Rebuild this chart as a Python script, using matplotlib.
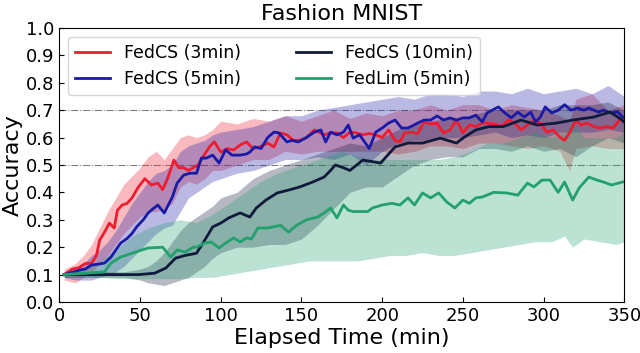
import matplotlib
matplotlib.use('Agg')
import matplotlib.pyplot as plt
import numpy as np

# FedCS (3min)
red_t = [3, 8, 12, 16, 20, 23, 25, 28, 31, 34, 36, 39, 42, 45, 49, 53, 57, 61, 64, 67,
         71, 74, 77, 80, 83, 86, 89, 93, 96, 100, 104, 108, 112, 116, 120, 124, 129, 133, 137, 141,
         145, 149, 153, 158, 164, 168, 172, 176, 180, 184, 188, 192, 196, 200, 204, 208, 211, 214, 218, 222,
         226, 230, 234, 238, 242, 246, 250, 254, 258, 262, 265, 269, 274, 278, 282, 286, 290, 294, 298, 302,
         306, 310, 313, 316, 320, 323, 327, 331, 335, 339, 343, 347, 350]
red_y = [0.10, 0.12, 0.125, 0.14, 0.142, 0.17, 0.226, 0.255, 0.288, 0.27, 0.335, 0.354, 0.36, 0.38, 0.42, 0.45, 0.427, 0.434, 0.41, 0.45,
         0.518, 0.49, 0.49, 0.48, 0.49, 0.5, 0.53, 0.566, 0.585, 0.547, 0.56, 0.555, 0.573, 0.584, 0.56, 0.566, 0.58, 0.566, 0.617, 0.61,
         0.59, 0.59, 0.60, 0.628, 0.61, 0.617, 0.617, 0.60, 0.62, 0.617, 0.61, 0.615, 0.61, 0.60, 0.628, 0.59, 0.584, 0.617, 0.62, 0.615,
         0.657, 0.65, 0.653, 0.617, 0.628, 0.664, 0.617, 0.646, 0.64, 0.653, 0.653, 0.65, 0.64, 0.664, 0.653, 0.628, 0.646, 0.664, 0.653, 0.62,
         0.628, 0.602, 0.59, 0.617, 0.664, 0.646, 0.653, 0.64, 0.635, 0.64, 0.635, 0.664, 0.67]
red_band_t = [3, 10, 15, 20, 25, 30, 35, 40, 45, 50, 55, 60, 65, 70, 75, 80, 85, 90, 95, 100,
              110, 120, 130, 140, 150, 160, 170, 180, 190, 200, 210, 220, 230, 240, 250, 260, 270, 280, 290, 300,
              310, 316, 320, 330, 340, 350]
red_lo = [0.08, 0.07, 0.09, 0.11, 0.14, 0.17, 0.21, 0.25, 0.28, 0.31, 0.33, 0.33, 0.34, 0.36, 0.42, 0.44, 0.43, 0.45, 0.48, 0.48,
          0.50, 0.52, 0.52, 0.55, 0.54, 0.55, 0.55, 0.55, 0.55, 0.55, 0.54, 0.55, 0.57, 0.57, 0.56, 0.58, 0.58, 0.57, 0.56, 0.57,
          0.55, 0.48, 0.56, 0.57, 0.56, 0.56]
red_hi = [0.12, 0.14, 0.17, 0.21, 0.27, 0.33, 0.38, 0.43, 0.46, 0.49, 0.53, 0.55, 0.52, 0.56, 0.60, 0.61, 0.60, 0.61, 0.63, 0.66,
          0.65, 0.67, 0.66, 0.68, 0.66, 0.68, 0.70, 0.67, 0.69, 0.68, 0.70, 0.70, 0.72, 0.70, 0.72, 0.72, 0.70, 0.72, 0.71, 0.70,
          0.68, 0.66, 0.74, 0.76, 0.70, 0.72]

# FedCS (5min)
blue_t = [3, 9, 13, 16, 20, 24, 28, 32, 35, 38, 42, 45, 48, 52, 55, 58, 61, 65, 70, 73,
          77, 81, 85, 88, 91, 95, 99, 103, 107, 112, 116, 118, 121, 125, 129, 133, 136, 141, 144, 148,
          153, 158, 162, 165, 168, 172, 176, 179, 182, 186, 192, 196, 200, 204, 208, 212, 216, 222, 226, 230,
          234, 238, 242, 246, 250, 254, 258, 262, 265, 272, 276, 280, 284, 288, 292, 295, 298, 301, 305, 309,
          313, 317, 321, 325, 328, 334, 337, 341, 346, 349]
blue_y = [0.10, 0.11, 0.117, 0.12, 0.135, 0.138, 0.142, 0.164, 0.19, 0.215, 0.232, 0.25, 0.275, 0.30, 0.325, 0.34, 0.354, 0.325, 0.383, 0.434,
          0.463, 0.47, 0.47, 0.525, 0.525, 0.536, 0.507, 0.555, 0.536, 0.536, 0.54, 0.547, 0.566, 0.56, 0.60, 0.62, 0.617, 0.584, 0.59, 0.584,
          0.60, 0.62, 0.628, 0.584, 0.62, 0.61, 0.62, 0.646, 0.598, 0.61, 0.56, 0.62, 0.635, 0.653, 0.664, 0.635, 0.635, 0.653, 0.664, 0.664,
          0.679, 0.664, 0.672, 0.664, 0.672, 0.672, 0.682, 0.657, 0.69, 0.712, 0.69, 0.672, 0.693, 0.675, 0.693, 0.657, 0.675, 0.712, 0.69, 0.70,
          0.72, 0.70, 0.708, 0.70, 0.708, 0.693, 0.70, 0.69, 0.693, 0.675]
blue_band_t = [3, 10, 15, 20, 25, 30, 35, 40, 45, 50, 55, 60, 65, 70, 75, 80, 85, 90, 95, 100,
               110, 120, 130, 140, 150, 160, 170, 180, 190, 200, 210, 220, 230, 240, 250, 260, 270, 280, 290, 300,
               310, 320, 330, 340, 350]
blue_lo = [0.09, 0.08, 0.08, 0.08, 0.09, 0.10, 0.11, 0.13, 0.16, 0.19, 0.22, 0.25, 0.27, 0.28, 0.33, 0.38, 0.40, 0.42, 0.44, 0.45,
           0.47, 0.48, 0.50, 0.52, 0.52, 0.53, 0.52, 0.54, 0.50, 0.55, 0.58, 0.59, 0.59, 0.60, 0.60, 0.61, 0.62, 0.60, 0.61, 0.60,
           0.62, 0.62, 0.62, 0.63, 0.62]
blue_hi = [0.11, 0.12, 0.14, 0.17, 0.19, 0.22, 0.26, 0.31, 0.36, 0.40, 0.44, 0.47, 0.48, 0.50, 0.55, 0.57, 0.58, 0.59, 0.61, 0.62,
           0.63, 0.64, 0.66, 0.68, 0.68, 0.70, 0.71, 0.72, 0.73, 0.74, 0.75, 0.74, 0.76, 0.76, 0.75, 0.77, 0.77, 0.76, 0.78, 0.76,
           0.77, 0.78, 0.76, 0.79, 0.75]

# FedCS (10min)
navy_t = [3, 49, 59, 66, 72, 78, 85, 89, 95, 100, 105, 112, 118, 122, 128, 135, 143, 149, 157, 164,
          168, 171, 176, 180, 188, 199, 208, 216, 225, 236, 246, 251, 258, 266, 275, 286, 296, 308, 318, 331,
          341, 346, 350]
navy_y = [0.10, 0.10, 0.105, 0.124, 0.16, 0.17, 0.178, 0.215, 0.274, 0.288, 0.307, 0.325, 0.31, 0.343, 0.372, 0.398, 0.41, 0.42, 0.438, 0.456,
          0.48, 0.50, 0.49, 0.48, 0.518, 0.507, 0.566, 0.58, 0.58, 0.598, 0.58, 0.602, 0.628, 0.64, 0.64, 0.664, 0.646, 0.653, 0.664, 0.675,
          0.693, 0.675, 0.657]
navy_band_t = [3, 20, 40, 50, 55, 60, 65, 70, 75, 80, 85, 90, 95, 100, 110, 120, 130, 140, 150, 160,
               170, 180, 190, 200, 210, 220, 230, 240, 250, 260, 270, 280, 290, 300, 310, 320, 330, 340, 350]
navy_lo = [0.09, 0.09, 0.09, 0.08, 0.07, 0.065, 0.06, 0.07, 0.08, 0.09, 0.11, 0.13, 0.16, 0.18, 0.20, 0.20, 0.21, 0.21, 0.23, 0.28,
           0.34, 0.40, 0.42, 0.42, 0.46, 0.50, 0.52, 0.53, 0.53, 0.56, 0.56, 0.55, 0.57, 0.55, 0.56, 0.53, 0.57, 0.60, 0.58]
navy_hi = [0.11, 0.11, 0.11, 0.12, 0.13, 0.15, 0.18, 0.22, 0.26, 0.29, 0.31, 0.33, 0.35, 0.38, 0.40, 0.45, 0.48, 0.50, 0.52, 0.54,
           0.56, 0.58, 0.57, 0.60, 0.63, 0.65, 0.66, 0.67, 0.67, 0.69, 0.70, 0.70, 0.70, 0.70, 0.72, 0.72, 0.72, 0.73, 0.70]

# FedLim (5min)
green_t = [3, 16, 28, 32, 38, 47, 55, 64, 69, 73, 78, 83, 85, 90, 94, 99, 103, 108, 112, 116,
           119, 123, 129, 137, 142, 147, 153, 160, 164, 168, 172, 176, 179, 182, 191, 194, 200, 206, 211, 216,
           220, 225, 230, 235, 240, 245, 250, 254, 258, 262, 269, 277, 284, 290, 294, 299, 304, 309, 313, 318,
           322, 328, 333, 337, 342, 349]
green_y = [0.10, 0.105, 0.11, 0.142, 0.164, 0.182, 0.197, 0.20, 0.164, 0.19, 0.182, 0.20, 0.20, 0.215, 0.219, 0.197, 0.215, 0.234, 0.219, 0.234,
           0.23, 0.27, 0.27, 0.28, 0.255, 0.28, 0.30, 0.31, 0.325, 0.343, 0.307, 0.354, 0.335, 0.33, 0.33, 0.343, 0.354, 0.36, 0.354, 0.38,
           0.354, 0.398, 0.38, 0.398, 0.365, 0.343, 0.372, 0.36, 0.38, 0.383, 0.40, 0.398, 0.39, 0.434, 0.42, 0.445, 0.445, 0.40, 0.438, 0.372,
           0.416, 0.456, 0.445, 0.438, 0.427, 0.438]
green_band_t = [3, 15, 25, 35, 45, 55, 65, 75, 85, 95, 105, 115, 125, 135, 145, 155, 165, 175, 185, 195,
                205, 215, 225, 235, 245, 255, 265, 275, 285, 295, 305, 313, 318, 325, 335, 345, 350]
green_lo = [0.09, 0.09, 0.09, 0.085, 0.085, 0.085, 0.085, 0.085, 0.09, 0.09, 0.10, 0.11, 0.12, 0.13, 0.14, 0.15, 0.15, 0.15, 0.15, 0.16,
            0.17, 0.17, 0.18, 0.17, 0.17, 0.18, 0.19, 0.20, 0.21, 0.22, 0.22, 0.24, 0.20, 0.23, 0.22, 0.21, 0.22]
green_hi = [0.11, 0.12, 0.15, 0.19, 0.24, 0.27, 0.29, 0.30, 0.29, 0.32, 0.36, 0.40, 0.44, 0.47, 0.49, 0.51, 0.53, 0.55, 0.53, 0.52,
            0.52, 0.52, 0.52, 0.52, 0.53, 0.55, 0.58, 0.58, 0.60, 0.62, 0.60, 0.62, 0.66, 0.60, 0.60, 0.60, 0.62]

c_red = '#ee1c2e'
c_blue = '#1a1aa6'
c_navy = '#101a3c'
c_green = '#22a06e'

fig = plt.figure(figsize=(6.4, 3.53), dpi=100)
ax = fig.add_axes([0.0927, 0.1445, 0.8828, 0.7762])

ax.axhline(0.7, color='gray', lw=0.8, ls='-.', zorder=1)
ax.axhline(0.5, color='gray', lw=0.8, ls='-.', zorder=1)

ax.fill_between(red_band_t, red_lo, red_hi, color=c_red, alpha=0.3, lw=0)
ax.fill_between(blue_band_t, blue_lo, blue_hi, color=c_blue, alpha=0.3, lw=0)
ax.fill_between(navy_band_t, navy_lo, navy_hi, color=c_navy, alpha=0.3, lw=0)
ax.fill_between(green_band_t, green_lo, green_hi, color=c_green, alpha=0.3, lw=0)

ax.plot(red_t, red_y, color=c_red, lw=2, label='FedCS (3min)')
ax.plot(blue_t, blue_y, color=c_blue, lw=2, label='FedCS (5min)')
ax.plot(navy_t, navy_y, color=c_navy, lw=2, label='FedCS (10min)')
ax.plot(green_t, green_y, color=c_green, lw=2, label='FedLim (5min)')

ax.set_xlim(0, 350)
ax.set_ylim(0, 1.0)
ax.set_xticks([0, 50, 100, 150, 200, 250, 300, 350])
ax.set_yticks([0.0, 0.1, 0.2, 0.3, 0.4, 0.5, 0.6, 0.7, 0.8, 0.9, 1.0])
ax.tick_params(direction='in', labelsize=13)
ax.set_xlabel('Elapsed Time (min)', fontsize=16, labelpad=2)
ax.set_ylabel('Accuracy', fontsize=16, labelpad=2)
ax.set_title('Fashion MNIST', fontsize=16, pad=6)
ax.legend(loc='upper left', ncol=2, fontsize=12.5, columnspacing=3.2)

fig.savefig('out.png', dpi=100)
